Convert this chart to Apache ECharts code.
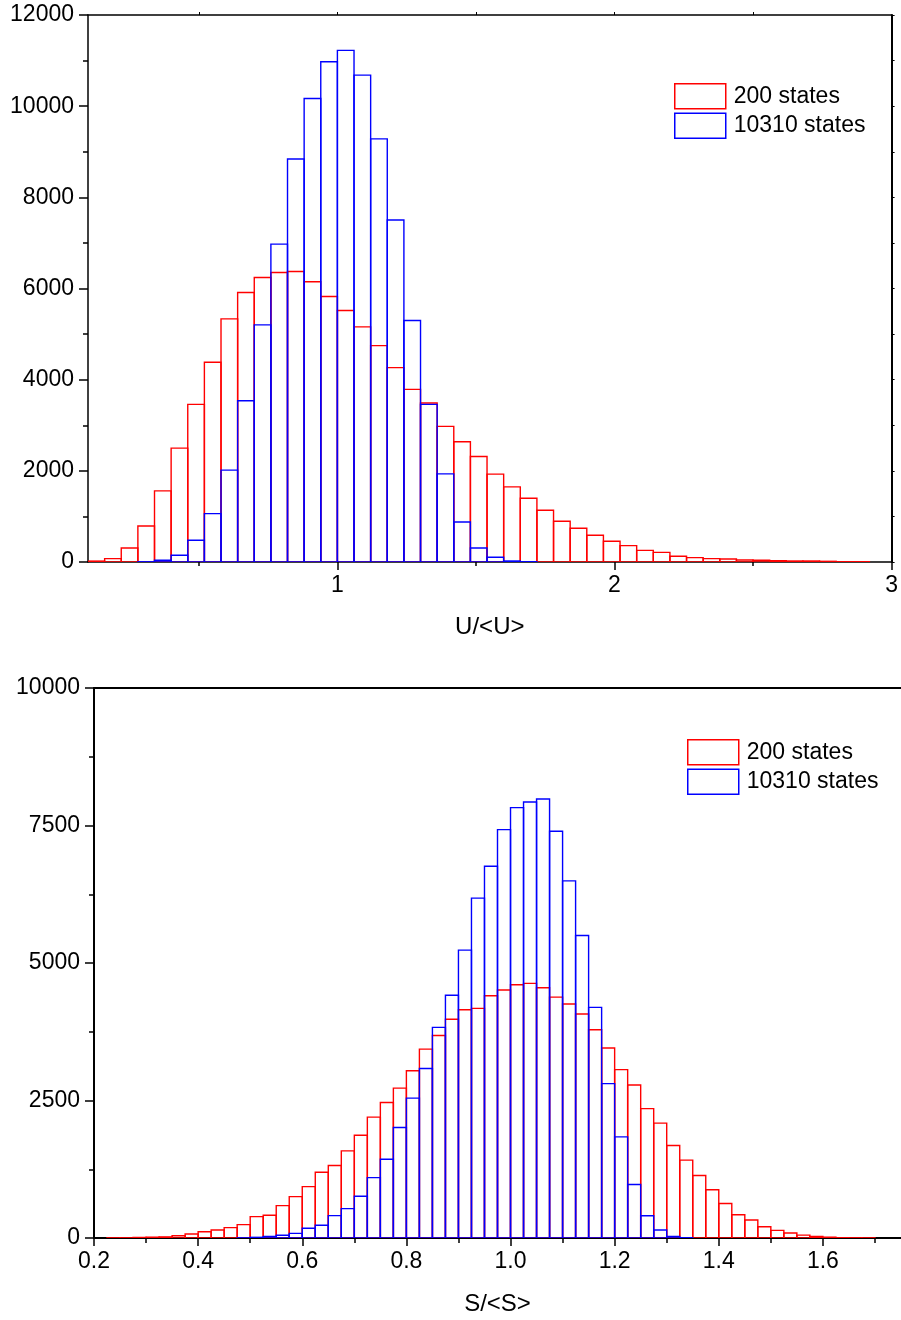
<!DOCTYPE html>
<html>
<head>
<meta charset="utf-8">
<script src="https://cdn.jsdelivr.net/npm/echarts@6/dist/echarts.min.js"></script>
<style>
  html, body { margin: 0; padding: 0; background: #fff; }
  #chart { width: 901px; height: 1320px; }
</style>
</head>
<body>
<div id="chart"></div>
<script>
// ---- U/<U> histogram (bin width 0.06) ----
const uBinWidth = 0.06;
const uBinStarts = [0.10, 0.16, 0.22, 0.28, 0.34, 0.40, 0.46, 0.52, 0.58, 0.64,
  0.70, 0.76, 0.82, 0.88, 0.94, 1.00, 1.06, 1.12, 1.18, 1.24,
  1.30, 1.36, 1.42, 1.48, 1.54, 1.60, 1.66, 1.72, 1.78, 1.84,
  1.90, 1.96, 2.02, 2.08, 2.14, 2.20, 2.26, 2.32, 2.38, 2.44,
  2.50, 2.56, 2.62, 2.68, 2.74, 2.80, 2.86];
const uCounts200 = [20, 73, 308, 791, 1560, 2498, 3458, 4381, 5333, 5912,
  6242, 6352, 6374, 6147, 5824, 5516, 5158, 4747, 4264, 3788,
  3487, 2975, 2637, 2315, 1927, 1648, 1399, 1136, 894, 740,
  586, 454, 359, 256, 212, 125, 95, 73, 66, 44,
  37, 29, 22, 22, 15, 7, 7];
const uCounts10310 = [0, 0, 0, 5, 37, 147, 476, 1062, 2015, 3538,
  5201, 6974, 8842, 10168, 10974, 11223, 10681, 9282, 7502, 5297,
  3458, 1934, 879, 308, 103, 22, 7, 0, 0, 0,
  0, 0, 0, 0, 0, 0, 0, 0, 0, 0,
  0, 0, 0, 0, 0, 0, 0];
const uMajorTicks = [1, 2, 3];
const uMinorTicks = [0.5, 1.5, 2.5];
const uTopTicks = [0.5, 1, 1.5, 2, 2.5];

// ---- S/<S> histogram (bin width 0.025) ----
const sBinWidth = 0.025;
const sBinStarts = [0.225, 0.250, 0.275, 0.300, 0.325, 0.350, 0.375, 0.400, 0.425, 0.450,
  0.475, 0.500, 0.525, 0.550, 0.575, 0.600, 0.625, 0.650, 0.675, 0.700,
  0.725, 0.750, 0.775, 0.800, 0.825, 0.850, 0.875, 0.900, 0.925, 0.950,
  0.975, 1.000, 1.025, 1.050, 1.075, 1.100, 1.125, 1.150, 1.175, 1.200,
  1.225, 1.250, 1.275, 1.300, 1.325, 1.350, 1.375, 1.400, 1.425, 1.450,
  1.475, 1.500, 1.525, 1.550, 1.575, 1.600, 1.625, 1.650, 1.675];
const sCounts200 = [3, 4, 10, 15, 20, 42, 73, 115, 146, 188,
  243, 388, 413, 589, 752, 934, 1195, 1317, 1584, 1869,
  2197, 2464, 2725, 3040, 3434, 3683, 3976, 4150, 4175, 4405,
  4508, 4604, 4629, 4550, 4380, 4254, 4072, 3787, 3455, 3061,
  2783, 2353, 2088, 1681, 1416, 1137, 877, 628, 423, 327,
  205, 138, 90, 52, 28, 15, 6, 4, 3];
const sCounts10310 = [0, 0, 0, 0, 0, 0, 0, 0, 0, 0,
  3, 12, 30, 49, 85, 176, 231, 407, 534, 758,
  1098, 1432, 2009, 2543, 3083, 3830, 4415, 5235, 6180, 6759,
  7425, 7825, 7927, 7981, 7395, 6493, 5501, 4194, 2807, 1839,
  974, 405, 145, 30, 5, 0, 0, 0, 0, 0,
  0, 0, 0, 0, 0, 0, 0, 0, 0];
const sMajorTicks = [0.2, 0.4, 0.6, 0.8, 1.0, 1.2, 1.4, 1.6];
const sMinorTicks = [0.3, 0.5, 0.7, 0.9, 1.1, 1.3, 1.5, 1.7];

const seriesNames = ['200 states', '10310 states'];
const RED = '#ff0000';
const BLUE = '#0000ff';
const FONT = '"Liberation Sans", Arial, Helvetica, sans-serif';
const FS = 23;

function histData(starts, width, counts) {
  return starts.map((x, i) => [x, x + width, counts[i]]);
}

function outlineBars(color) {
  return function (params, api) {
    const v = api.value(2);
    if (!v) return null;
    const p0 = api.coord([api.value(0), v]);
    const p1 = api.coord([api.value(1), 0]);
    return {
      type: 'rect',
      shape: { x: p0[0], y: p0[1], width: p1[0] - p0[0], height: p1[1] - p0[1] },
      style: { fill: 'none', stroke: color, lineWidth: 1.4 }
    };
  };
}

function histSeries(name, color, data, xi, yi) {
  return {
    type: 'custom',
    name: name,
    xAxisIndex: xi,
    yAxisIndex: yi,
    renderItem: outlineBars(color),
    encode: { x: [0, 1], y: 2 },
    itemStyle: { color: 'rgba(0,0,0,0)', borderColor: color },
    clip: true,
    silent: true,
    data: data
  };
}

const labelStyle = { color: '#000', fontSize: FS, fontFamily: FONT };
const nameStyle = { color: '#000', fontSize: 24, fontFamily: FONT };
const plainNumber = v => String(v);

function legendFor(left, top) {
  return {
    orient: 'vertical',
    left: left, top: top,
    padding: 0,
    itemWidth: 51, itemHeight: 25, itemGap: 3,
    selectedMode: false,
    textStyle: { color: '#000', fontSize: FS, fontFamily: FONT, padding: [0, 0, 0, 3] },
    data: [
      { name: seriesNames[0], icon: 'rect', itemStyle: { color: 'rgba(0,0,0,0)', borderColor: RED, borderWidth: 1.5 } },
      { name: seriesNames[1], icon: 'rect', itemStyle: { color: 'rgba(0,0,0,0)', borderColor: BLUE, borderWidth: 1.5 } }
    ]
  };
}

const option = {
  animation: false,
  backgroundColor: '#fff',
  textStyle: { fontFamily: FONT },
  grid: [
    { left: 88, top: 15, width: 805, height: 547 },
    { left: 94, top: 688, width: 812, height: 550 }
  ],
  legend: [legendFor(674, 83), legendFor(687, 739)],
  xAxis: [
    { // U/<U> main axis
      gridIndex: 0, type: 'value', min: 0.1, max: 3, position: 'bottom',
      axisLine: { lineStyle: { color: '#000', width: 1.5 } },
      axisTick: { customValues: uMajorTicks, length: 8, lineStyle: { color: '#000', width: 1.5 } },
      axisLabel: Object.assign({ customValues: uMajorTicks, margin: 12, formatter: plainNumber }, labelStyle),
      splitLine: { show: false },
      name: 'U/<U>', nameLocation: 'middle', nameGap: 53,
      nameTextStyle: nameStyle
    },
    { // U/<U> minor ticks
      gridIndex: 0, type: 'value', min: 0.1, max: 3, position: 'bottom',
      axisLine: { show: false },
      axisTick: { customValues: uMinorTicks, length: 4, lineStyle: { color: '#000', width: 1.5 } },
      axisLabel: { show: false },
      splitLine: { show: false }
    },
    { // U/<U> top frame
      gridIndex: 0, type: 'value', min: 0.1, max: 3, position: 'top',
      axisLine: { lineStyle: { color: '#000', width: 1.5 } },
      axisTick: { customValues: uTopTicks, length: 3, lineStyle: { color: '#000', width: 1 } },
      axisLabel: { show: false },
      splitLine: { show: false }
    },
    { // S/<S> main axis
      gridIndex: 1, type: 'value', min: 0.2, max: 1.75, position: 'bottom',
      axisLine: { lineStyle: { color: '#000', width: 2 } },
      axisTick: { customValues: sMajorTicks, length: 8, lineStyle: { color: '#000', width: 1.5 } },
      axisLabel: Object.assign({ customValues: sMajorTicks, margin: 12, formatter: v => v.toFixed(1) }, labelStyle),
      splitLine: { show: false },
      name: 'S/<S>', nameLocation: 'middle', nameGap: 54,
      nameTextStyle: nameStyle
    },
    { // S/<S> minor ticks
      gridIndex: 1, type: 'value', min: 0.2, max: 1.75, position: 'bottom',
      axisLine: { show: false },
      axisTick: { customValues: sMinorTicks, length: 5, lineStyle: { color: '#000', width: 1.5 } },
      axisLabel: { show: false },
      splitLine: { show: false }
    },
    { // S/<S> top frame
      gridIndex: 1, type: 'value', min: 0.2, max: 1.75, position: 'top',
      axisLine: { lineStyle: { color: '#000', width: 2 } },
      axisTick: { show: false },
      axisLabel: { show: false },
      splitLine: { show: false }
    }
  ],
  yAxis: [
    {
      gridIndex: 0, type: 'value', min: 0, max: 12000, interval: 2000, position: 'left',
      axisLine: { show: true, lineStyle: { color: '#000', width: 1.5 } },
      axisTick: { show: true, length: 9, lineStyle: { color: '#000', width: 1.5 } },
      minorTick: { show: true, splitNumber: 2, length: 5, lineStyle: { color: '#000', width: 1.5 } },
      axisLabel: Object.assign({ margin: 14, formatter: plainNumber }, labelStyle),
      splitLine: { show: false }, minorSplitLine: { show: false }
    },
    {
      gridIndex: 0, type: 'value', min: 0, max: 12000, interval: 1000, position: 'right',
      axisLine: { show: true, lineStyle: { color: '#000', width: 2 } },
      axisTick: { show: true, length: 3, lineStyle: { color: '#000', width: 1 } },
      axisLabel: { show: false },
      splitLine: { show: false }
    },
    {
      gridIndex: 1, type: 'value', min: 0, max: 10000, interval: 2500, position: 'left',
      axisLine: { show: true, lineStyle: { color: '#000', width: 2 } },
      axisTick: { show: true, length: 9, lineStyle: { color: '#000', width: 1.5 } },
      minorTick: { show: true, splitNumber: 2, length: 5, lineStyle: { color: '#000', width: 1.5 } },
      axisLabel: Object.assign({ margin: 14, formatter: plainNumber }, labelStyle),
      splitLine: { show: false }, minorSplitLine: { show: false }
    }
  ],
  series: [
    histSeries(seriesNames[0], RED, histData(uBinStarts, uBinWidth, uCounts200), 0, 0),
    histSeries(seriesNames[1], BLUE, histData(uBinStarts, uBinWidth, uCounts10310), 0, 0),
    histSeries(seriesNames[0], RED, histData(sBinStarts, sBinWidth, sCounts200), 3, 2),
    histSeries(seriesNames[1], BLUE, histData(sBinStarts, sBinWidth, sCounts10310), 3, 2)
  ]
};

const chart = echarts.init(document.getElementById('chart'), null, { renderer: 'canvas' });
chart.setOption(option);
</script>
</body>
</html>
